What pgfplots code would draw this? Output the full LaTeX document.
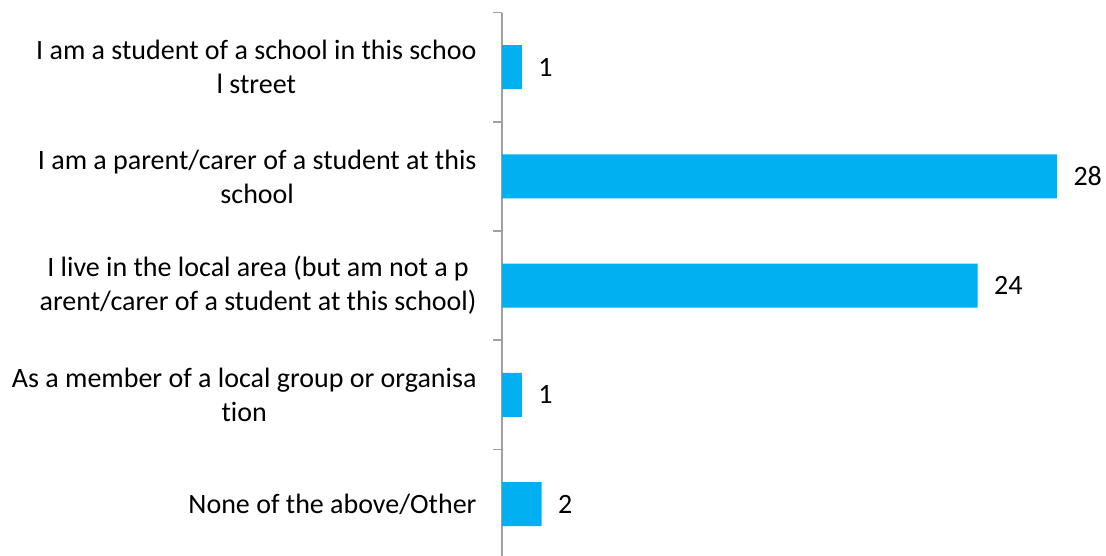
\documentclass[border=0pt]{standalone}
\usepackage{pgfplots}
\pgfplotsset{compat=1.18}
\usepackage{fontspec}
\setmainfont[Ligatures=NoCommon]{Carlito}
\definecolor{barblue}{HTML}{00B0F0}
\definecolor{axgrey}{HTML}{A0A0A0}
\begin{document}
\begin{tikzpicture}
\useasboundingbox (0,0) rectangle (1106pt,556pt);
\begin{axis}[
  at={(502pt,-2.6pt)}, anchor=south west,
  scale only axis, width=555pt, height=546pt,
  xmin=0, xmax=28, ymin=-0.5, ymax=4.5,
  y dir=reverse,
  xbar, bar width=44pt,
  axis x line=none,
  axis y line*=left,
  y axis line style={draw=axgrey, line width=1.5pt},
  ytick={0,1,2,3,4},
  yticklabels={{I am a student of a school in this schoo\\l street},
               {I am a parent/carer of a student at this\\school},
               {I live in the local area (but am not a p\\arent/carer of a student at this school)},
               {As a member of a local group or organisa\\tion},
               {None of the above/Other}},
  yticklabel style={align=center, anchor=east, xshift=-22pt, font=\fontsize{28}{34}\selectfont},
  major tick length=0pt,
  extra y ticks={-0.5,0.5,1.5,2.5,3.5,4.5},
  extra y tick labels={},
  extra y tick style={major tick length=9pt, tick align=outside, tick style={draw=axgrey, line width=1.5pt}},
  /pgf/number format/assume math mode=true,
  nodes near coords,
  nodes near coords style={font=\fontsize{28}{34}\selectfont, anchor=west, xshift=13pt, text=black},
  clip=false,
]
\addplot[fill=barblue, draw=none] coordinates {(1,0) (28,1) (24,2) (1,3) (2,4)};
\end{axis}
\end{tikzpicture}
\end{document}
